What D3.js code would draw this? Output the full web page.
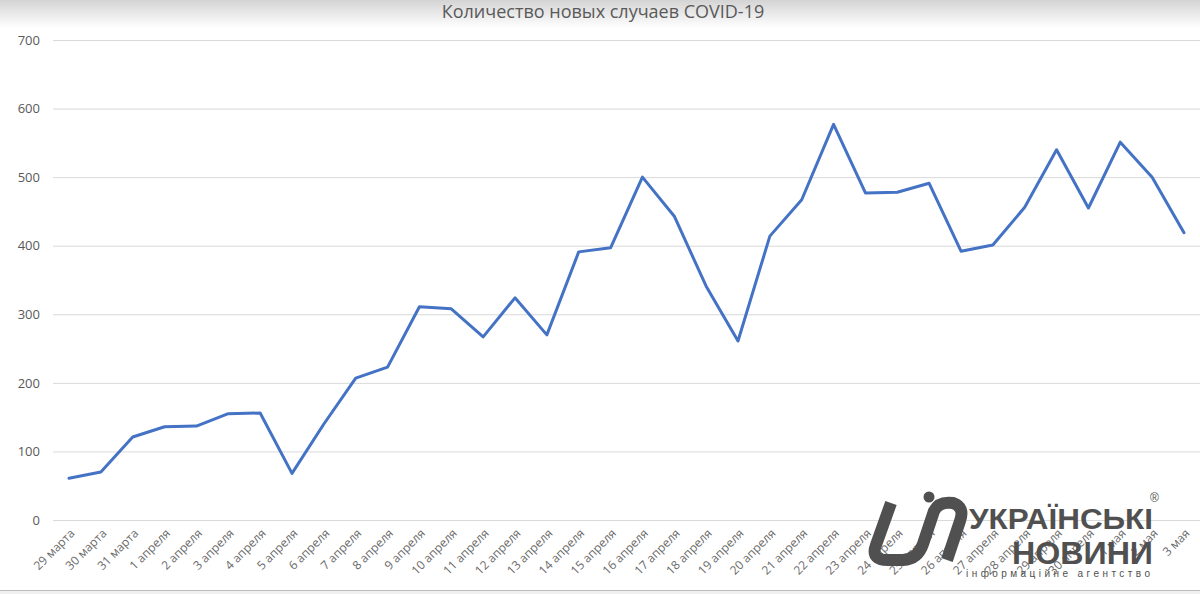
<!DOCTYPE html>
<html>
<head>
<meta charset="utf-8">
<script src="https://cdn.jsdelivr.net/npm/d3@7"></script>
<style>
  html, body { margin: 0; padding: 0; background: #fff; }
  svg { display: block; }
</style>
</head>
<body>
<svg id="chart" width="1200" height="594"></svg>
<script>
const title = "Количество новых случаев COVID-19";
const categories = [
  "29 марта","30 марта","31 марта",
  "1 апреля","2 апреля","3 апреля","4 апреля","5 апреля","6 апреля","7 апреля","8 апреля","9 апреля","10 апреля",
  "11 апреля","12 апреля","13 апреля","14 апреля","15 апреля","16 апреля","17 апреля","18 апреля","19 апреля","20 апреля",
  "21 апреля","22 апреля","23 апреля","24 апреля","25 апреля","26 апреля","27 апреля","28 апреля","29 апреля","30 апреля",
  "1 мая","2 мая","3 мая"
];
const newCases = [
  61, 70, 121,
  136, 137, 155, 156, 68, 140, 207, 223, 311, 308,
  267, 324, 270, 391, 397, 500, 443, 341, 261, 414,
  467, 577, 477, 478, 491, 392, 401, 456, 540, 455,
  551, 500, 419
];
const yTicks = [0, 100, 200, 300, 400, 500, 600, 700];

const svg = d3.select("#chart");
const W = 1200, H = 594;
const font = "'Open Sans', 'Liberation Sans', sans-serif";

// top gradient (screenshot header)
const defs = svg.append("defs");
const grad = defs.append("linearGradient").attr("id", "topg").attr("x1", 0).attr("y1", 0).attr("x2", 0).attr("y2", 1);
grad.append("stop").attr("offset", "0%").attr("stop-color", "#d4d4d4");
grad.append("stop").attr("offset", "100%").attr("stop-color", "#ffffff");
svg.append("rect").attr("x", 0).attr("y", 0).attr("width", W).attr("height", 28).attr("fill", "url(#topg)");

const x = d3.scalePoint().domain(categories).range([69, 1184]);
const y = d3.scaleLinear().domain([0, 700]).range([520, 40]);

// gridlines
const yAxis = d3.axisLeft(y).tickValues(yTicks).tickSize(-(1200 - 53)).tickPadding(13);
const gy = svg.append("g").attr("transform", "translate(53,0)").call(yAxis);
gy.select(".domain").remove();
gy.selectAll(".tick line").attr("stroke", "#d9d9d9").attr("stroke-width", 1);
gy.selectAll(".tick text").attr("fill", "#595959").attr("font-family", font).attr("font-size", 13);

// x labels
const xAxis = d3.axisBottom(x).tickSize(0).tickPadding(0);
const gx = svg.append("g").attr("transform", "translate(0,520)").call(xAxis);
gx.select(".domain").remove();
gx.selectAll(".tick text")
  .attr("fill", "#6a6a6a")
  .attr("font-family", font)
  .attr("font-size", 12)
  .attr("text-anchor", "end")
  .attr("dy", null)
  .attr("y", null)
  .attr("transform", "translate(6,14) rotate(-45)");

// title
svg.append("text")
  .attr("x", 603).attr("y", 18)
  .attr("text-anchor", "middle")
  .attr("fill", "#595959")
  .attr("font-family", font)
  .attr("font-size", 18)
  .text(title);

// line
const line = d3.line().x((d, i) => x(categories[i])).y(d => y(d));
svg.append("path")
  .datum(newCases)
  .attr("d", line)
  .attr("fill", "none")
  .attr("stroke", "#4472C4")
  .attr("stroke-width", 3)
  .attr("stroke-linejoin", "round")
  .attr("stroke-linecap", "round");

// bottom spreadsheet border
svg.append("rect").attr("x", 0).attr("y", 590).attr("width", W).attr("height", 4).attr("fill", "#f0f0f0");
svg.append("line").attr("x1", 0).attr("x2", W).attr("y1", 590.5).attr("y2", 590.5).attr("stroke", "#bdbdbd");

// watermark logo
const logo = svg.append("g").attr("fill", "#505050");
logo.append("path")
  .attr("d", "M 891 503 L 876 545 Q 870 561 890 560 L 903 560 Q 918 559 923 544 L 934 511 Q 939 501 953 503 Q 965 507 960 521 L 947 560")
  .attr("fill", "none").attr("stroke", "#505050").attr("stroke-width", 12).attr("stroke-linecap", "butt").attr("stroke-linejoin", "round");
logo.append("circle").attr("cx", 929).attr("cy", 497).attr("r", 5.5);
logo.append("text").attr("x", 969).attr("y", 529).attr("font-family", "'Liberation Sans', Arial, sans-serif")
  .attr("font-weight", "bold").attr("font-size", 29).attr("textLength", 184).attr("lengthAdjust", "spacingAndGlyphs").text("УКРАЇНСЬКІ");
logo.append("text").attr("x", 1012).attr("y", 564).attr("font-family", "'Liberation Sans', Arial, sans-serif")
  .attr("font-weight", "bold").attr("font-size", 32).attr("textLength", 141).attr("lengthAdjust", "spacingAndGlyphs").text("НОВИНИ");
logo.append("text").attr("x", 966).attr("y", 577).attr("font-family", "'Liberation Sans', Arial, sans-serif")
  .attr("font-size", 10).attr("textLength", 184).attr("lengthAdjust", "spacing").text("інформаційне агентство");
logo.append("text").attr("x", 1150).attr("y", 502).attr("font-family", "'Liberation Sans', Arial, sans-serif")
  .attr("font-size", 12).text("®");
</script>
</body>
</html>
